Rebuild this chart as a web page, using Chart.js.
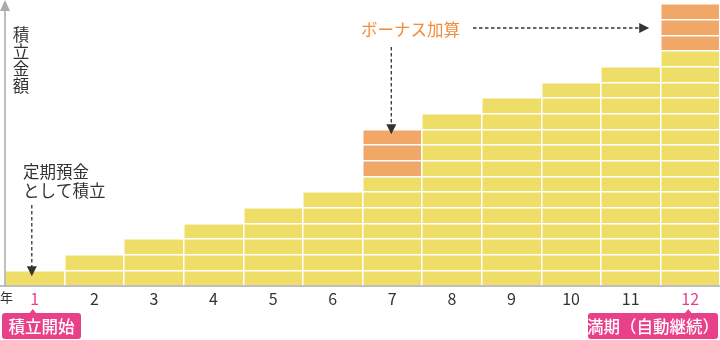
<!DOCTYPE html>
<html>
<head>
<meta charset="utf-8">
<script src="https://cdn.jsdelivr.net/npm/chart.js@4"></script>
<style>
  html, body { margin: 0; padding: 0; background: #fff; }
  #wrap { width: 720px; height: 340px; position: relative; }
</style>
</head>
<body>
<div id="wrap"><canvas id="mycanvas"></canvas></div>
<script>
var years = ['1','2','3','4','5','6','7','8','9','10','11','12'];
var savings = [1, 2, 3, 4, 5, 6, 7, 11, 12, 13, 14, 15];
var bonus = [0, 0, 0, 0, 0, 0, 3, 0, 0, 0, 0, 3];
var yMax = 18;

var JP = '"Noto Sans CJK JP", "Noto Sans", sans-serif';
var pink = '#E8418A';
var dark = '#333333';

function arrowDown(ctx, x, y1, y2) {
	ctx.save();
	ctx.strokeStyle = dark;
	ctx.lineWidth = 1.3;
	ctx.setLineDash([3.5, 2.5]);
	ctx.beginPath();
	ctx.moveTo(x, y1);
	ctx.lineTo(x, y2 - 9);
	ctx.stroke();
	ctx.setLineDash([]);
	ctx.fillStyle = dark;
	ctx.beginPath();
	ctx.moveTo(x - 5, y2 - 10);
	ctx.lineTo(x + 5, y2 - 10);
	ctx.lineTo(x, y2);
	ctx.closePath();
	ctx.fill();
	ctx.restore();
}

function arrowRight(ctx, x1, x2, y) {
	ctx.save();
	ctx.strokeStyle = dark;
	ctx.lineWidth = 1.3;
	ctx.setLineDash([3.5, 2.5]);
	ctx.beginPath();
	ctx.moveTo(x1, y);
	ctx.lineTo(x2 - 9, y);
	ctx.stroke();
	ctx.setLineDash([]);
	ctx.fillStyle = dark;
	ctx.beginPath();
	ctx.moveTo(x2 - 10, y - 5);
	ctx.lineTo(x2 - 10, y + 5);
	ctx.lineTo(x2, y);
	ctx.closePath();
	ctx.fill();
	ctx.restore();
}

function tagBox(ctx, text, x, y, w, h, px) {
	ctx.save();
	ctx.fillStyle = pink;
	ctx.beginPath();
	ctx.roundRect(x, y, w, h, 3);
	ctx.fill();
	ctx.beginPath();
	ctx.moveTo(px - 4, y + 1);
	ctx.lineTo(px + 4, y + 1);
	ctx.lineTo(px, y - 4);
	ctx.closePath();
	ctx.fill();
	ctx.fillStyle = '#fff';
	ctx.font = '500 16.5px ' + JP;
	ctx.textAlign = 'center';
	ctx.textBaseline = 'middle';
	ctx.fillText(text, x + w / 2, y + h / 2 + 1);
	ctx.restore();
}

var notes = {
	id: 'notes',
	afterDraw: function(chart) {
		var ctx = chart.ctx;
		var xs = chart.scales.x, ys = chart.scales.y;
		var left = chart.chartArea.left, bottom = chart.chartArea.bottom;

		// axis lines
		ctx.save();
		ctx.strokeStyle = '#aaaaaa';
		ctx.lineWidth = 1.5;
		ctx.beginPath();
		ctx.moveTo(left, bottom);
		ctx.lineTo(left, 9);
		ctx.moveTo(0, bottom);
		ctx.lineTo(720, bottom);
		ctx.stroke();
		ctx.fillStyle = '#aaaaaa';
		ctx.beginPath();
		ctx.moveTo(left - 5, 11);
		ctx.lineTo(left + 5, 11);
		ctx.lineTo(left, 0);
		ctx.closePath();
		ctx.fill();

		// vertical axis title
		ctx.fillStyle = dark;
		ctx.font = '16.5px ' + JP;
		ctx.textAlign = 'center';
		ctx.textBaseline = 'middle';
		var t = '積立金額';
		for (var i = 0; i < t.length; i++) {
			ctx.fillText(t[i], 21, 35 + i * 17);
		}

		ctx.font = '13px ' + JP;
		ctx.textAlign = 'left';
		ctx.fillText('年', 0, 297);

		ctx.font = '16.5px ' + JP;
		ctx.fillText('定期預金', 23, 172);
		ctx.fillText('として積立', 23, 191);

		ctx.fillStyle = '#F08C3C';
		ctx.fillText('ボーナス加算', 361, 30);
		ctx.restore();

		var x1 = xs.getPixelForValue(0);
		var x7 = xs.getPixelForValue(6);
		var x12 = xs.getPixelForValue(11);

		arrowDown(ctx, x1 - 3, 205, ys.getPixelForValue(savings[0]) + 6);
		arrowDown(ctx, x7 - 1, 47, ys.getPixelForValue(savings[6] + bonus[6]) + 5);
		arrowRight(ctx, 473, x12 - 41, 28);

		tagBox(ctx, '積立開始', 2, 313, 79, 26, x1 - 2);
		tagBox(ctx, '満期（自動継続）', 588, 313, 130, 26, x12 - 2);
	}
};

var ctx = document.getElementById('mycanvas');

var barGraph = new Chart(ctx, {
	type: 'bar',
	data: {
		labels: years,
		datasets: [
			{
				label: '積立',
				data: savings,
				backgroundColor: '#EEDE68',
				borderWidth: 0,
				barPercentage: 1,
				categoryPercentage: 1
			},
			{
				label: 'ボーナス',
				data: bonus,
				backgroundColor: '#F0A767',
				borderWidth: 0,
				barPercentage: 1,
				categoryPercentage: 1
			}
		]
	},
	options: {
		responsive: true,
		maintainAspectRatio: false,
		animation: false,
		layout: { padding: { left: 5, top: 4, right: 0, bottom: 0 } },
		plugins: {
			legend: { display: false },
			tooltip: { enabled: false }
		},
		scales: {
			x: {
				stacked: true,
				grid: { color: '#ffffff', lineWidth: 1.5, offset: true, drawTicks: false, z: 1 },
				border: { display: false },
				ticks: {
					padding: 3,
					font: { family: JP, size: 16 },
					color: function(c) {
						return (c.index === 0 || c.index === years.length - 1) ? pink : dark;
					}
				},
				afterFit: function(s) { s.height = 54; }
			},
			y: {
				stacked: true,
				min: 0,
				max: yMax,
				grid: { color: '#ffffff', lineWidth: 1.5, drawTicks: false, z: 1 },
				border: { display: false },
				ticks: { display: false, stepSize: 1 },
				afterFit: function(s) { s.width = 0; }
			}
		}
	},
	plugins: [notes]
});
</script>
</body>
</html>
